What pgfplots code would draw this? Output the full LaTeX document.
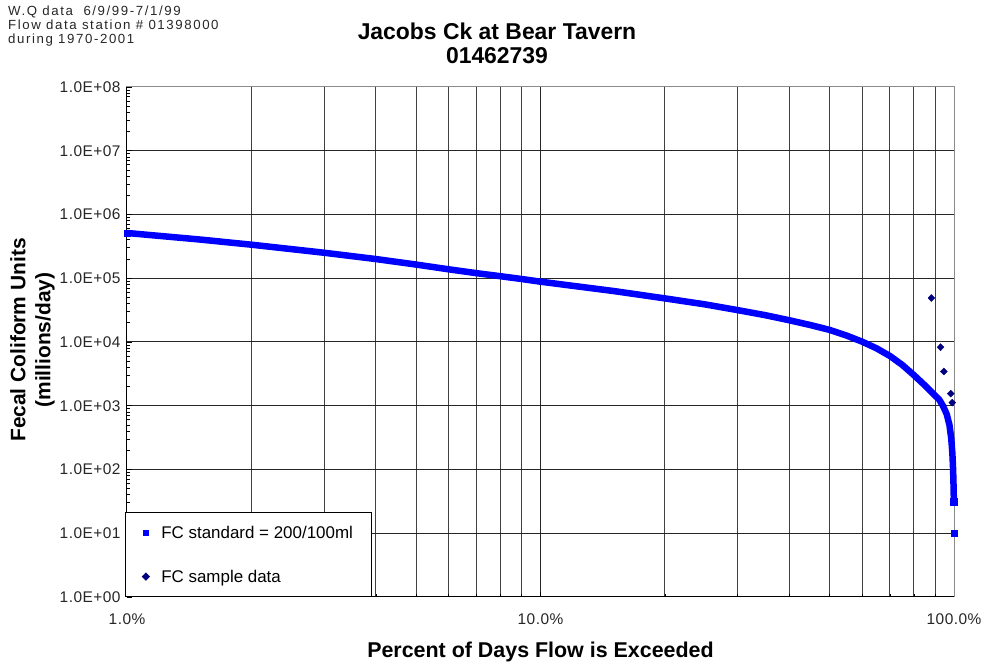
\documentclass[border=0pt]{standalone}
\usepackage{pgfplots}
\pgfplotsset{compat=1.18}
\usepackage{fontspec}
\setmainfont{Liberation Sans}
\newfontfamily\notefont{Liberation Sans}[LetterSpace=12]
\newfontfamily\tickfont{Liberation Sans}[LetterSpace=3]
\definecolor{fcblue}{HTML}{0000FF}
\definecolor{fcnavy}{HTML}{000080}
\begin{document}
\begin{tikzpicture}
\begin{axis}[
  scale only axis,
  width=827bp, height=510bp,
  xmode=log, ymode=log,
  xmin=1, xmax=100, ymin=1, ymax=1e8,
  clip=false,
  xtick={1,10,100},
  xticklabels={1.0\%,10.0\%,100.0\%},
  ytick={1,10,100,1000,10000,100000,1000000,10000000,100000000},
  yticklabels={1.0E+00,1.0E+01,1.0E+02,1.0E+03,1.0E+04,1.0E+05,1.0E+06,1.0E+07,1.0E+08},
  xtick pos=bottom, ytick pos=left,
  major tick length=5bp, minor tick length=3bp,
  tick style={black, line width=0.8bp},
  xmajorgrids, xminorgrids, ymajorgrids,
  major grid style={black!85, line width=1bp},
  minor grid style={black!75, line width=1bp},
  axis line style={black!45, line width=1bp},
  ticklabel style={font=\tickfont\fontsize{15.5}{18}\selectfont, text=black!85},
  xticklabel style={yshift=-13bp},
  yticklabel style={xshift=-3bp},
  legend cell align=left,
  legend style={at={(rel axis cs:0,0)}, anchor=south west, xshift=-2bp,
    draw=black, fill=white, line width=1bp,
    font=\fontsize{17}{20}\selectfont,
    inner xsep=17bp, inner ysep=11bp, row sep=26bp,
    nodes={inner xsep=2bp},
    /tikz/every odd column/.append style={column sep=10bp}},
]
\addplot[fcblue, line width=6.5bp, line join=round, forget plot] coordinates {
(1,513000) (1.5,405000) (2,336000) (3,251000) (4,200000) (5,164000)
(6,138000) (7,120200) (8,107600) (9,97300) (10,88300) (15,63100)
(20,48300) (25,38900) (30,31600) (35,26300) (40,21900) (45,18400)
(50,15500) (55,12600) (60,10100) (65,7940) (70,6030) (75,4365)
(80,3020) (85,2090) (90,1445) (92,1259) (94,1000) (96,741)
(97.5,500) (98.5,302) (99.1,178) (99.5,100) (99.7,63) (99.85,40) (99.9,35)
};
\addplot[only marks, mark=square*, mark size=3.25bp, fcblue, forget plot] coordinates {
(1,513000) (99.93,31) (99.97,10)
};
\addlegendimage{only marks, mark=square*, mark size=2.6bp, fcblue}
\addlegendentry{FC standard = 200/100ml\hspace{6bp}}
\addplot[only marks, mark=diamond*, mark size=3.5bp, mark options={xscale=1.3}, fcnavy] coordinates {
(88.2,49000) (92.8,8300) (94.5,3450) (98.2,1550) (99.0,1120)
};
\addlegendentry{FC sample data}
\draw[black, line width=1bp] (rel axis cs:0,1) -- (rel axis cs:0,0) -- (rel axis cs:1,0);
\end{axis}
\node[font=\bfseries\fontsize{23}{24}\selectfont, align=center] at ([xshift=370bp,yshift=44bp]current axis.north west) {Jacobs Ck at Bear Tavern\\01462739};
\node[font=\notefont\fontsize{13.3}{14}\selectfont, align=left, anchor=west, text=black!85, inner sep=0pt] at ([xshift=-119bp,yshift=61bp]current axis.north west) {W.Q data\ \ 6/9/99-7/1/99\\Flow data station \# 01398000\\during 1970-2001};
\node[font=\bfseries\fontsize{21.5}{24}\selectfont] at ([yshift=-55bp]current axis.south) {Percent of Days Flow is Exceeded};
\node[font=\bfseries\fontsize{21}{25}\selectfont, align=center, rotate=90] at ([xshift=-94.5bp,yshift=2bp]current axis.west) {Fecal Coliform Units\\(millions/day)};
\path ([xshift=-127bp,yshift=-67bp]current axis.south west) rectangle ([xshift=31bp,yshift=87bp]current axis.north east);
\end{tikzpicture}
\end{document}
